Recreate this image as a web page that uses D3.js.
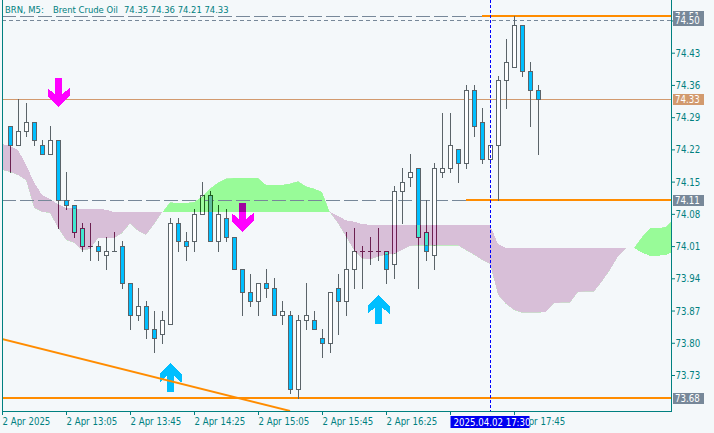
<!DOCTYPE html>
<html><head><meta charset="utf-8">
<script src="https://cdn.jsdelivr.net/npm/d3@7"></script>
<style>
html,body{margin:0;padding:0;background:#F4F8FA;}
svg{display:block;}
</style></head><body>
<svg id="c" width="714" height="433"></svg>
<script>
// ---------------- DATA ----------------
const symbolText = "BRN, M5:";
const nameText = "Brent Crude Oil";
const quoteText = "74.35 74.36 74.21 74.33";
const times = ["12:25","12:30","12:35","12:40","12:45","12:50","12:55","13:00","13:05","13:10","13:15","13:20","13:25","13:30","13:35","13:40","13:45","13:50","13:55","14:00","14:05","14:10","14:15","14:20","14:25","14:30","14:35","14:40","14:45","14:50","14:55","15:00","15:05","15:10","15:15","15:20","15:25","15:30","15:35","15:40","15:45","15:50","15:55","16:00","16:05","16:10","16:15","16:20","16:25","16:30","16:35","16:40","16:45","16:50","16:55","17:00","17:05","17:10","17:15","17:20","17:25","17:30","17:35","17:40","17:45","17:50","17:55","18:00"];
// candles for times[1..67]
const open  = [74.27,74.23,74.26,74.28,74.23,74.21,74.24,74.11,74.10,74.05, 74.01,74.01,73.99,74.00,74.01,73.93,73.86,73.88,73.83,73.82, 73.84,74.06,74.02,74.02,74.08,74.12,74.02,74.07,74.03,73.96, 73.91,73.89,73.93,73.92,73.86,73.86,73.70,73.85,73.85,73.81, 73.80,73.92,73.89,73.96,74.00,74.00,74.00,74.00,73.97,74.13, 74.16,74.18,74.04,73.99,74.17,74.18,74.22,74.19,74.35,74.28, 74.20,74.23,74.37,74.40,74.49,74.39,74.35];
const high  = [74.27,74.33,74.32,74.28,74.24,74.27,74.24,74.17,74.10,74.06, 74.06,74.02,74.03,74.04,74.02,73.93,73.92,73.89,73.87,73.87, 74.07,74.07,74.04,74.09,74.15,74.13,74.10,74.09,74.03,73.96, 73.95,73.93,73.96,73.94,73.89,73.87,73.86,73.93,73.87,73.83, 73.91,73.95,74.04,74.05,74.01,74.03,74.05,74.00,74.14,74.18, 74.21,74.18,74.11,74.19,74.30,74.30,74.22,74.36,74.36,74.31, 74.23,74.38,74.46,74.51,74.49,74.41,74.36];
const low   = [74.17,74.23,74.25,74.23,74.21,74.21,74.05,74.09,74.03,74.00, 73.98,73.98,73.96,74.00,73.92,73.83,73.85,73.81,73.78,73.80, 73.84,74.00,73.98,74.00,74.08,74.02,74.00,74.02,73.96,73.86, 73.88,73.86,73.90,73.86,73.84,73.69,73.68,73.83,73.83,73.77, 73.78,73.82,73.86,73.92,73.92,73.97,73.98,73.93,73.94,74.06, 74.14,73.92,73.98,73.96,74.16,74.17,74.15,74.18,74.25,74.19, 74.19,74.11,74.31,74.40,74.38,74.27,74.21];
const close = [74.23,74.26,74.28,74.24,74.21,74.24,74.11,74.10,74.04,74.01, 74.01,74.00,74.00,74.00,73.93,73.86,73.88,73.83,73.81,73.85, 74.06,74.02,74.01,74.08,74.12,74.02,74.08,74.03,73.96,73.91, 73.89,73.93,73.92,73.86,73.87,73.70,73.85,73.86,73.83,73.80, 73.91,73.89,73.96,74.00,74.00,74.00,74.00,73.96,74.13,74.15, 74.17,74.03,74.00,74.18,74.18,74.23,74.19,74.35,74.27,74.20, 74.23,74.37,74.41,74.49,74.39,74.35,74.33];
// Ichimoku cloud, bar slots 0..84 (26 bars projected past the last candle)
const senkouA = [74.175,74.171,74.164,74.153,74.093,74.084,74.082,74.049,74.023,74.017,
 74.001,74.003,74.027,74.027,74.027,74.038,74.059,74.043,74.034,74.057,
 74.083,74.105,74.104,74.104,74.106,74.117,74.135,74.148,74.157,74.158,
 74.158,74.158,74.158,74.143,74.143,74.143,74.146,74.151,74.140,74.135,
 74.128,74.083,74.059,74.030,74.001,73.983,73.981,73.987,73.991,73.993,
 74.001,74.010,74.011,74.011,74.011,74.011,74.011,74.011,74.001,73.991,
 73.980,73.971,73.904,73.884,73.871,73.865,73.865,73.865,73.867,73.886,
 73.887,73.887,73.910,73.911,73.911,73.933,73.958,73.987,74.005,74.006,
 74.030,74.049,74.049,74.052,74.069];
const senkouB = [74.232,74.227,74.219,74.186,74.149,74.121,74.112,74.101,74.093,74.091,
 74.091,74.091,74.091,74.089,74.084,74.084,74.084,74.084,74.084,74.084,
 74.084,74.084,74.084,74.084,74.084,74.084,74.084,74.084,74.084,74.084,
 74.084,74.084,74.084,74.084,74.084,74.084,74.084,74.084,74.084,74.084,
 74.084,74.084,74.075,74.066,74.063,74.058,74.056,74.056,74.056,74.056,
 74.056,74.056,74.056,74.056,74.056,74.056,74.056,74.056,74.056,74.056,
 74.056,74.056,74.014,74.006,74.006,74.006,74.006,74.006,74.006,74.006,
 74.006,74.006,74.006,74.006,74.006,74.006,74.006,74.006,74.006,74.006,
 73.996,73.989,73.989,73.991,73.998];
const priceTicks = [74.50,74.43,74.36,74.29,74.22,74.15,74.08,74.01,73.94,73.87,73.80,73.73];
const timeTicks = ["12:25","13:05","13:45","14:25","15:05","15:45","16:25","17:05","17:45"];
const timeTickLabels = ["2 Apr 2025","2 Apr 13:05","2 Apr 13:45","2 Apr 14:25","2 Apr 15:05","2 Apr 15:45","2 Apr 16:25","2 Apr 17:05","2 Apr 17:45"];
const sellSignalTimes = ["13:00","14:55"];
const sellSignalPrices = [74.312,74.041];
const buySignalTimes = ["14:10","16:20"];
const buySignalPrices = [73.755,73.904];
const trendTimes = ["12:25","15:25"];
const trendPrices = [73.808,73.652];
const highLevel = 74.51, highLevelFrom = "17:25";
const supportLevel = 74.11, supportLevelFrom = "17:15";
const askLevel = 74.50;
const bidLevel = 74.33;
const lowLevel = 73.68;
const cursorTime = "17:30";
const cursorLabel = "2025.04.02 17:30";

// ---------------- FONT PICK ----------------
const cv = document.createElement("canvas").getContext("2d");
cv.font = "10px 'DejaVu Sans Condensed'"; const wc = cv.measureText("74.43 2 Apr").width;
cv.font = "10px 'DejaVu Sans'"; const wn = cv.measureText("74.43 2 Apr").width;
const condensed = wc < wn - 1;
const FONT = condensed ? "'DejaVu Sans Condensed', 'DejaVu Sans', sans-serif" : "'Liberation Sans', Arial, sans-serif";
const AXFS = condensed ? "9.6px" : "9.5px";
const TFS = condensed ? "9.4px" : "9.5px";

// ---------------- CHART ----------------
const teal = "#008080", slate = "#778899", orange = "#FF8C00", tan = "#D29A6E";
const svg = d3.select("#c").style("font-family", FONT);
const idx = t => times.indexOf(t);
const x = d3.scaleLinear().domain([0, 83.625]).range([2, 671]);
const y = d3.scaleLinear().domain([73.73, 74.43]).range([375.0, 52.7]);
const slots = d3.range(senkouA.length);
const defs = svg.append("defs");
defs.append("clipPath").attr("id","plot").append("rect").attr("x",3).attr("y",0).attr("width",668).attr("height",411);
defs.append("clipPath").attr("id","aboveA").append("path")
  .attr("d", d3.area().x(i=>x(i)).y0(-50).y1(i=>y(senkouA[i]))(slots));
defs.append("clipPath").attr("id","belowA").append("path")
  .attr("d", d3.area().x(i=>x(i)).y0(i=>y(senkouA[i])).y1(600)(slots));
defs.append("clipPath").attr("id","between").append("path")
  .attr("d", d3.area().x(i=>x(i)).y0(i=>y(senkouA[i])).y1(i=>y(senkouB[i]))(slots));

const plot = svg.append("g").attr("clip-path","url(#plot)");
const cloudPath = d3.area().x(i=>x(i)).y0(i=>y(senkouA[i])).y1(i=>y(senkouB[i]))(slots);
plot.append("g").attr("clip-path","url(#aboveA)").append("path").attr("d",cloudPath).attr("fill","#D8BFD8").attr("shape-rendering","crispEdges");
plot.append("g").attr("clip-path","url(#belowA)").append("path").attr("d",cloudPath).attr("fill","#98FB98").attr("shape-rendering","crispEdges");

// horizontal levels
const ry = p => Math.round(y(p));
plot.append("line").attr("x1",2).attr("x2",671).attr("y1",ry(bidLevel)+0.5).attr("y2",ry(bidLevel)+0.5).attr("stroke",tan);
plot.append("line").attr("x1",2).attr("x2",671).attr("y1",ry(askLevel)+0.5).attr("y2",ry(askLevel)+0.5).attr("stroke",slate).attr("stroke-dasharray","4,3");
[[highLevel,highLevelFrom],[supportLevel,supportLevelFrom]].forEach(([p,t])=>{
  const xs = x(idx(t));
  plot.append("line").attr("x1",2).attr("x2",xs).attr("y1",ry(p)+0.5).attr("y2",ry(p)+0.5).attr("stroke",slate).attr("stroke-dasharray","14,4");
  plot.append("rect").attr("x",xs).attr("y",ry(p)-1).attr("width",671-xs).attr("height",2).attr("fill",orange);
});
plot.append("rect").attr("x",2).attr("y",ry(lowLevel)-1).attr("width",669).attr("height",2).attr("fill",orange);

// candles
const candles = close.map((c,i)=>({k:i+1,o:open[i],h:high[i],l:low[i],c:c}));
function drawCandles(g, col){
  const cg = g.selectAll("g.cd").data(candles).join("g").attr("class","cd");
  cg.each(function(d){
    const s = d3.select(this), cx = Math.round(x(d.k));
    const yh = ry(d.h), yl = ry(d.l);
    s.append("rect").attr("x",cx).attr("y",yh).attr("width",1).attr("height",yl-yh+1).attr("fill",col.line);
    const yt = ry(Math.max(d.o,d.c)), yb = ry(Math.min(d.o,d.c));
    if (yb-yt < 1) {
      s.append("rect").attr("x",cx-2).attr("y",yt).attr("width",5).attr("height",1).attr("fill",col.line);
    } else {
      s.append("rect").attr("x",cx-2).attr("y",yt).attr("width",5).attr("height",yb-yt+1).attr("fill",col.line);
      if (yb-yt>=2) s.append("rect").attr("x",cx-1).attr("y",yt+1).attr("width",3).attr("height",yb-yt-1).attr("fill", d.c>d.o?col.bull:col.bear);
    }
  });
}
function arrowPts(dir){ // dir 1 = up (tip at top), -1 = down
  return [[0,0],[11,11],[11,19],[3.5,12.5],[3.5,29],[-3.5,29],[-3.5,12.5],[-11,19],[-11,11]].map(([a,b])=>[a,b*dir]);
}
const signals = sellSignalTimes.map((t,i)=>({k:idx(t),p:sellSignalPrices[i],dir:-1}))
  .concat(buySignalTimes.map((t,i)=>({k:idx(t),p:buySignalPrices[i],dir:1})));
function drawArrows(g, sellCol, buyCol){
  g.selectAll("polygon").data(signals).join("polygon")
    .attr("points", d=>arrowPts(d.dir).map(([a,b])=>[Math.round(x(d.k))+0.5+a, y(d.p)+b].join(",")).join(" "))
    .attr("fill", d=>d.dir<0?sellCol:buyCol).attr("shape-rendering","crispEdges");
}
drawCandles(plot.append("g").attr("shape-rendering","crispEdges"), {line:"#5B6469", bull:"#FFFFFF", bear:"#00BFFF"});
drawArrows(plot.append("g"), "#FF00FF", "#00BFFF");
// cloud overlays (XOR-like colours where the cloud covers candles)
const pinkOv = plot.append("g").attr("clip-path","url(#aboveA)").append("g").attr("clip-path","url(#between)");
drawCandles(pinkOv.append("g").attr("shape-rendering","crispEdges"), {line:"#6C2050", bull:"#DFB8DF", bear:"#40E6CE"});
const greenOv = plot.append("g").attr("clip-path","url(#belowA)").append("g").attr("clip-path","url(#between)");
drawCandles(greenOv.append("g").attr("shape-rendering","crispEdges"), {line:"#1E5E1E", bull:"#A0FCA0", bear:"#60BC9F"});
drawArrows(greenOv.append("g"), "#9F039F", "#60BC9F");

// trend line
plot.append("line").attr("x1",x(idx(trendTimes[0]))).attr("y1",y(trendPrices[0]))
  .attr("x2",x(idx(trendTimes[1]))).attr("y2",y(trendPrices[1])).attr("stroke",orange).attr("stroke-width",2);
// cursor
const cxl = Math.round(x(idx(cursorTime)))+0.5;
plot.append("line").attr("x1",cxl).attr("x2",cxl).attr("y1",0).attr("y2",411).attr("stroke","#0000FF").attr("stroke-dasharray","3,2");

// frame
svg.append("line").attr("x1",2.5).attr("x2",2.5).attr("y1",0).attr("y2",412).attr("stroke",teal);
svg.append("line").attr("x1",671.5).attr("x2",671.5).attr("y1",0).attr("y2",412).attr("stroke",teal);
svg.append("line").attr("x1",2).attr("x2",672).attr("y1",411.5).attr("y2",411.5).attr("stroke",teal);

// axes
const ya = svg.append("g").attr("transform","translate(671,0)")
  .call(d3.axisRight(y).tickValues(priceTicks).tickSize(4).tickFormat(d3.format(".2f")));
ya.attr("font-family",null).attr("font-size",null);
ya.select(".domain").remove();
ya.selectAll("line").attr("stroke",teal);
ya.selectAll("text").attr("fill",teal).attr("x",4.5).attr("dy","0.36em").style("font-size",AXFS);
const xa = svg.append("g").attr("transform","translate(0,411)")
  .call(d3.axisBottom(x).tickValues(timeTicks.map(idx)).tickSize(4).tickSizeOuter(0).tickFormat((d,i)=>timeTickLabels[i]));
xa.attr("font-family",null).attr("font-size",null);
xa.select(".domain").remove();
xa.selectAll("line").attr("stroke",teal);
xa.selectAll("text").attr("fill",teal).attr("text-anchor","start").attr("x",0).style("font-size",AXFS);
// labels under the cursor box are hidden in the reference
xa.selectAll(".tick").filter(d=>d===idx("17:05")).select("text").remove();
xa.select(".tick:last-of-type").each(function(d){
  const tx = x(d);
  d3.select(this).insert("clipPath",":first-child").attr("id","afterBoxLocal")
    .append("rect").attr("x",529-tx).attr("y",0).attr("width",150).attr("height",22);
  d3.select(this).select("text").attr("clip-path","url(#afterBoxLocal)");
});

// price boxes
function priceBox(p, fill){
  const yy = ry(p);
  svg.append("rect").attr("x",673).attr("y",yy-5).attr("width",31).attr("height",11).attr("fill",fill);
  svg.append("text").attr("x",675).attr("y",yy+4).attr("fill","#fff").style("font-size",AXFS).text(d3.format(".2f")(p));
}
priceBox(highLevel, slate);
priceBox(askLevel, slate);
priceBox(bidLevel, tan);
priceBox(supportLevel, slate);
priceBox(lowLevel, slate);

// cursor time label
svg.append("rect").attr("x",cxl-40).attr("y",416).attr("width",79).attr("height",12).attr("fill","#0000F0");
svg.append("text").attr("x",cxl-37).attr("y",426).attr("fill","#fff").style("font-size",AXFS).text(cursorLabel);

// title
const title = svg.append("text").attr("y",12.5).attr("fill",teal).style("font-size",TFS);
title.append("tspan").attr("x",5).text(symbolText);
title.append("tspan").attr("x",53).text(nameText);
title.append("tspan").attr("x",124).text(quoteText);
</script>
</body></html>
